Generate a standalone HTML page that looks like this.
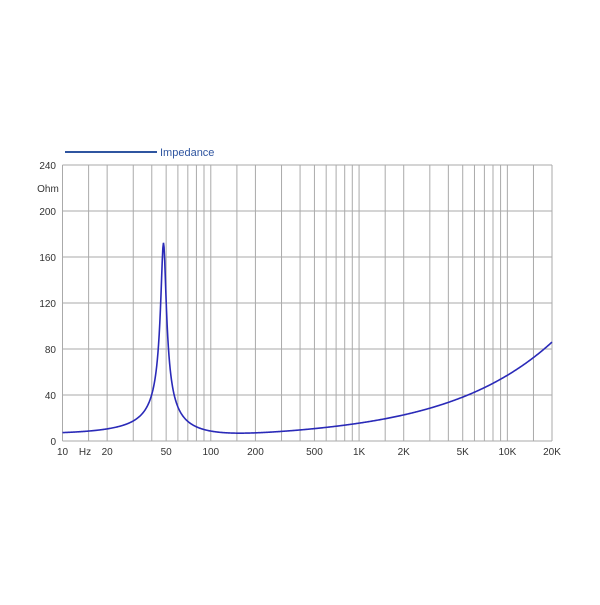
<!DOCTYPE html>
<html><head><meta charset="utf-8"><style>
body{margin:0;background:#fff}
svg text{font-family:"Liberation Sans",sans-serif;font-size:10px;fill:#333}
</style></head><body>
<svg id="s" width="600" height="600" xmlns="http://www.w3.org/2000/svg">
<line x1="65" y1="152" x2="157" y2="152" stroke="#2f55a0" stroke-width="2"/>
<text x="160" y="156" style="font-size:11px;fill:#2f55a0">Impedance</text>
<g id="grid" stroke="#aaa" stroke-width="1"></g>
<g id="lab"></g>
<path id="c" fill="none" stroke="#2a2ab8" stroke-width="1.6"/>
</svg>
<script>
var L=62.5,R=552,T=165,B=441,D=(R-L)/Math.log10(2000);
function X(f){return L+Math.log10(f/10)*D}
function Y(z){return B-(z/240)*(B-T)}
var g=document.getElementById('grid'),lab=document.getElementById('lab'),ns="http://www.w3.org/2000/svg";
function ln(a,b,c,d){var e=document.createElementNS(ns,'line');e.setAttribute('x1',a);e.setAttribute('y1',b);e.setAttribute('x2',c);e.setAttribute('y2',d);g.appendChild(e)}
function tx(x,y,t,a){var e=document.createElementNS(ns,'text');e.setAttribute('x',x);e.setAttribute('y',y);e.setAttribute('text-anchor',a||'middle');e.textContent=t;lab.appendChild(e)}
[10,100,1000,10000].forEach(function(d){[1,1.5,2,3,4,5,6,7,8,9].forEach(function(m){var f=d*m;if(f<=20000)ln(X(f),T,X(f),B)})});
ln(X(20000),T,X(20000),B);
for(var z=0;z<=240;z+=40){ln(L,Y(z),R,Y(z));}
[[0,"0"],[40,"40"],[80,"80"],[120,"120"],[160,"160"],[200,"200"],[240,"240"]].forEach(function(p){tx(56,Y(p[0])+4,p[1],'end')});
tx(48,192,"Ohm",'middle');
[[10,"10"],[20,"20"],[50,"50"],[100,"100"],[200,"200"],[500,"500"],[1000,"1K"],[2000,"2K"],[5000,"5K"],[10000,"10K"],[20000,"20K"]].forEach(function(p){tx(X(p[0]),455,p[1])});
tx(85,455,"Hz");
var d="";
for(var i=0;i<=800;i++){var f=10*Math.pow(2000,i/800);
var Q=12,fs=48,Rm=166,Re=6;
var a=Q*(f/fs-fs/f),den=1+a*a;
var zr=Rm/den, zi=-Rm*a/den;
var Xl=84*Math.pow(f/20000,0.6);
var rr=Re+zr+0.15*Xl, ii=zi+Xl;
var zz=Math.sqrt(rr*rr+ii*ii);
d+=(i?"L":"M")+X(f).toFixed(2)+","+Y(zz).toFixed(2);}
document.getElementById('c').setAttribute('d',d);
</script>
</body></html>
